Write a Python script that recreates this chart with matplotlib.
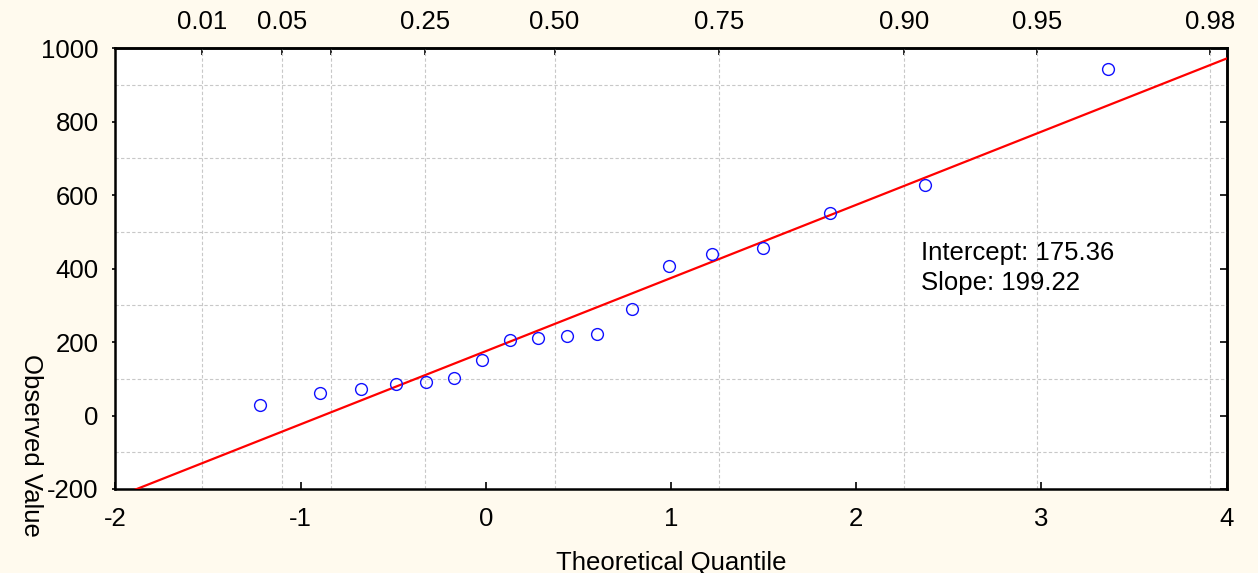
import numpy as np
import matplotlib
matplotlib.use("Agg")
import matplotlib.pyplot as plt

plt.rcParams['font.family'] = ['Liberation Sans', 'DejaVu Sans']
plt.rcParams['axes.unicode_minus'] = False

# theoretical quantile vs observed value
theo_q = [-1.217, -0.894, -0.672, -0.486, -0.325, -0.173, -0.022, 0.128, 0.280,
          0.441, 0.603, 0.790, 0.990, 1.222, 1.497, 1.859, 2.372, 3.359]
observed = [29, 61, 73, 85, 90, 101, 151, 206, 212, 217, 223, 290, 407, 440,
            456, 551, 627, 943]

intercept = 175.36
slope = 199.22

# probability scale on top
top_pos = [-1.531, -1.098, -0.837, -0.329, 0.371, 1.258, 2.256, 2.978, 3.908]
top_lab = ['0.01', '0.05', '', '0.25', '0.50', '0.75', '0.90', '0.95', '0.98']

fs = 18.5
bg = '#fffaee'
fig = plt.figure(figsize=(12.58, 5.73), dpi=100, facecolor=bg)
ax = fig.add_axes([0.0917, 0.1466, 0.9751 - 0.0917, 0.9157 - 0.1466])
ax.set_facecolor('white')

ax.set_xlim(-2, 4)
ax.set_ylim(-200, 1000)

# fit line
xl = np.array([-2, 4])
ax.plot(xl, intercept + slope * xl, color='#ff0000', lw=1.6, zorder=3)
ax.plot(theo_q, observed, 'o', ms=8.5, mfc='none', mec='#1010ff', mew=1.0, zorder=4)

ax.set_xticks(range(-2, 5))
ax.set_xticklabels([str(v) for v in range(-2, 5)])
ax.set_xticks(top_pos, minor=True)
ax.set_yticks(range(-200, 1001, 200))
ax.set_yticks(range(-200, 1001, 100), minor=True)

ax.tick_params(axis='x', which='major', direction='in', length=5, width=1.2,
               labelsize=fs, pad=13, top=False)
ax.tick_params(axis='x', which='minor', length=0)
ax.tick_params(axis='y', which='major', direction='out', length=2, width=1.2,
               labelsize=fs, pad=10)
ax.tick_params(axis='y', which='minor', length=0)

ax.grid(True, which='minor', color='#c8c8c8', ls=(0, (3, 2)), lw=0.8)
ax.set_axisbelow(True)

for s in ax.spines.values():
    s.set_linewidth(1.8)

top = ax.secondary_xaxis('top')
top.set_xticks(top_pos)
top.set_xticklabels(top_lab)
top.tick_params(direction='in', length=5, width=1.2, labelsize=fs, pad=10)
top.spines['top'].set_linewidth(1.8)

right = ax.secondary_yaxis('right')
right.set_yticks(range(-200, 1001, 200))
right.set_yticklabels([])
right.tick_params(direction='in', length=5, width=1.2)
right.spines['right'].set_linewidth(1.8)

ax.text(2.35, 443, 'Intercept: 175.36', fontsize=fs, va='center')
ax.text(2.35, 361, 'Slope: 199.22', fontsize=fs, va='center')

fig.text(0.5334, 0.018, 'Theoretical Quantile', fontsize=fs, ha='center', va='center')
fig.text(0.025, 0.222, 'Observed Value', fontsize=fs, rotation=270,
         ha='center', va='center')

plt.savefig('out.png', dpi=100, facecolor=bg)
